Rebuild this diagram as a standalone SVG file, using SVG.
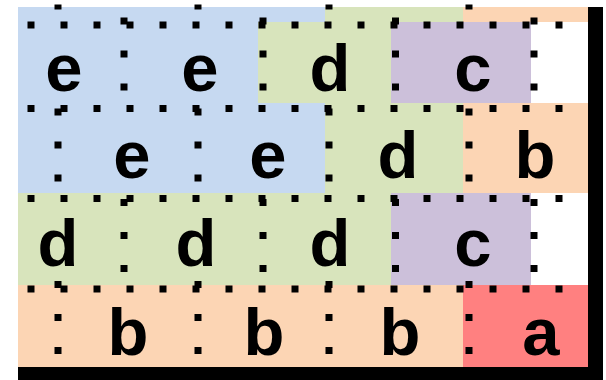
<svg xmlns="http://www.w3.org/2000/svg" width="606" height="380" viewBox="0 0 606 380">
<style>
.t{font-family:"Liberation Sans",Arial,sans-serif;font-weight:bold;font-size:67px;text-anchor:middle;fill:#000}
.dl{stroke:#000;stroke-width:7;stroke-dasharray:7 26;fill:none}
.bl{fill:#c6d9f1}.gr{fill:#d8e4bc}.pu{fill:#ccc0da}.pe{fill:#fcd5b4}.rd{fill:#ff8080}.wh{fill:#ffffff}
</style>
<rect id="shadow" x="18" y="7" width="585" height="375" fill="#000"/>
<g id="row2">
<g id="r2c1"><rect class="bl" x="18" y="7" width="180" height="186"/><text class="t" x="132" y="178">e</text></g>
<g id="r2c2"><rect class="bl" x="198" y="7" width="127" height="186"/><text class="t" x="268" y="178">e</text></g>
<g id="r2c3"><rect class="gr" x="325" y="7" width="138" height="186"/><text class="t" x="398" y="178">d</text></g>
<g id="r2c4"><rect class="pe" x="463" y="7" width="125" height="186"/><text class="t" x="535" y="178">b</text></g>
</g>
<g id="row4">
<g id="r4c1"><rect class="pe" x="18" y="285" width="180" height="82"/><text class="t" x="128" y="355">b</text></g>
<g id="r4c2"><rect class="pe" x="198" y="285" width="131" height="82"/><text class="t" x="264" y="355">b</text></g>
<g id="r4c3"><rect class="pe" x="329" y="285" width="134" height="82"/><text class="t" x="400" y="355">b</text></g>
<g id="r4c4"><rect class="rd" x="463" y="285" width="125" height="82"/><text class="t" x="541" y="355">a</text></g>
</g>
<g id="row1">
<g id="r1c1"><rect class="bl" x="18" y="22" width="106" height="81"/><text class="t" x="64" y="91">e</text></g>
<g id="r1c2"><rect class="bl" x="124" y="22" width="134" height="81"/><text class="t" x="200" y="91">e</text></g>
<g id="r1c3"><rect class="gr" x="258" y="22" width="133" height="81"/><text class="t" x="330" y="91">d</text></g>
<g id="r1c4"><rect class="pu" x="391" y="22" width="140" height="81"/><text class="t" x="473" y="91">c</text></g>
<g id="r1c5"><rect class="wh" x="531" y="22" width="57" height="81"/></g>
</g>
<g id="row3">
<g id="r3c1"><rect class="gr" x="18" y="193" width="106" height="92"/><text class="t" x="58" y="266">d</text></g>
<g id="r3c2"><rect class="gr" x="124" y="193" width="139" height="92"/><text class="t" x="196" y="266">d</text></g>
<g id="r3c3"><rect class="gr" x="263" y="193" width="128" height="92"/><text class="t" x="330" y="266">d</text></g>
<g id="r3c4"><rect class="pu" x="391" y="193" width="140" height="92"/><text class="t" x="473" y="266">c</text></g>
<g id="r3c5"><rect class="wh" x="531" y="193" width="57" height="92"/></g>
</g>
<g id="dotted">
<line class="dl" x1="27.5" y1="25" x2="588" y2="25"/>
<line class="dl" x1="27.5" y1="108.5" x2="588" y2="108.5"/>
<line class="dl" x1="27.5" y1="198.5" x2="588" y2="198.5"/>
<line class="dl" x1="27.5" y1="289" x2="588" y2="289"/>
<line class="dl" x1="124" y1="17.5" x2="124" y2="91"/>
<line class="dl" x1="263" y1="17.5" x2="263" y2="91"/>
<line class="dl" x1="395.5" y1="17.5" x2="395.5" y2="91"/>
<line class="dl" x1="534" y1="17.5" x2="534" y2="91"/>
<line class="dl" x1="124" y1="199" x2="124" y2="272"/>
<line class="dl" x1="263" y1="199" x2="263" y2="272"/>
<line class="dl" x1="395.5" y1="199" x2="395.5" y2="272"/>
<line class="dl" x1="534" y1="199" x2="534" y2="272"/>
<line class="dl" x1="58" y1="108.5" x2="58" y2="182"/>
<line class="dl" x1="198" y1="108.5" x2="198" y2="182"/>
<line class="dl" x1="329" y1="108.5" x2="329" y2="182"/>
<line class="dl" x1="469" y1="108.5" x2="469" y2="182"/>
<line class="dl" x1="58" y1="281" x2="58" y2="355"/>
<line class="dl" x1="198" y1="281" x2="198" y2="355"/>
<line class="dl" x1="329" y1="281" x2="329" y2="355"/>
<line class="dl" x1="469" y1="281" x2="469" y2="355"/>
<line class="dl" x1="58" y1="4.5" x2="58" y2="9.5"/>
<line class="dl" x1="198" y1="4.5" x2="198" y2="9.5"/>
<line class="dl" x1="329" y1="4.5" x2="329" y2="9.5"/>
<line class="dl" x1="469" y1="4.5" x2="469" y2="9.5"/>
</g>
</svg>
